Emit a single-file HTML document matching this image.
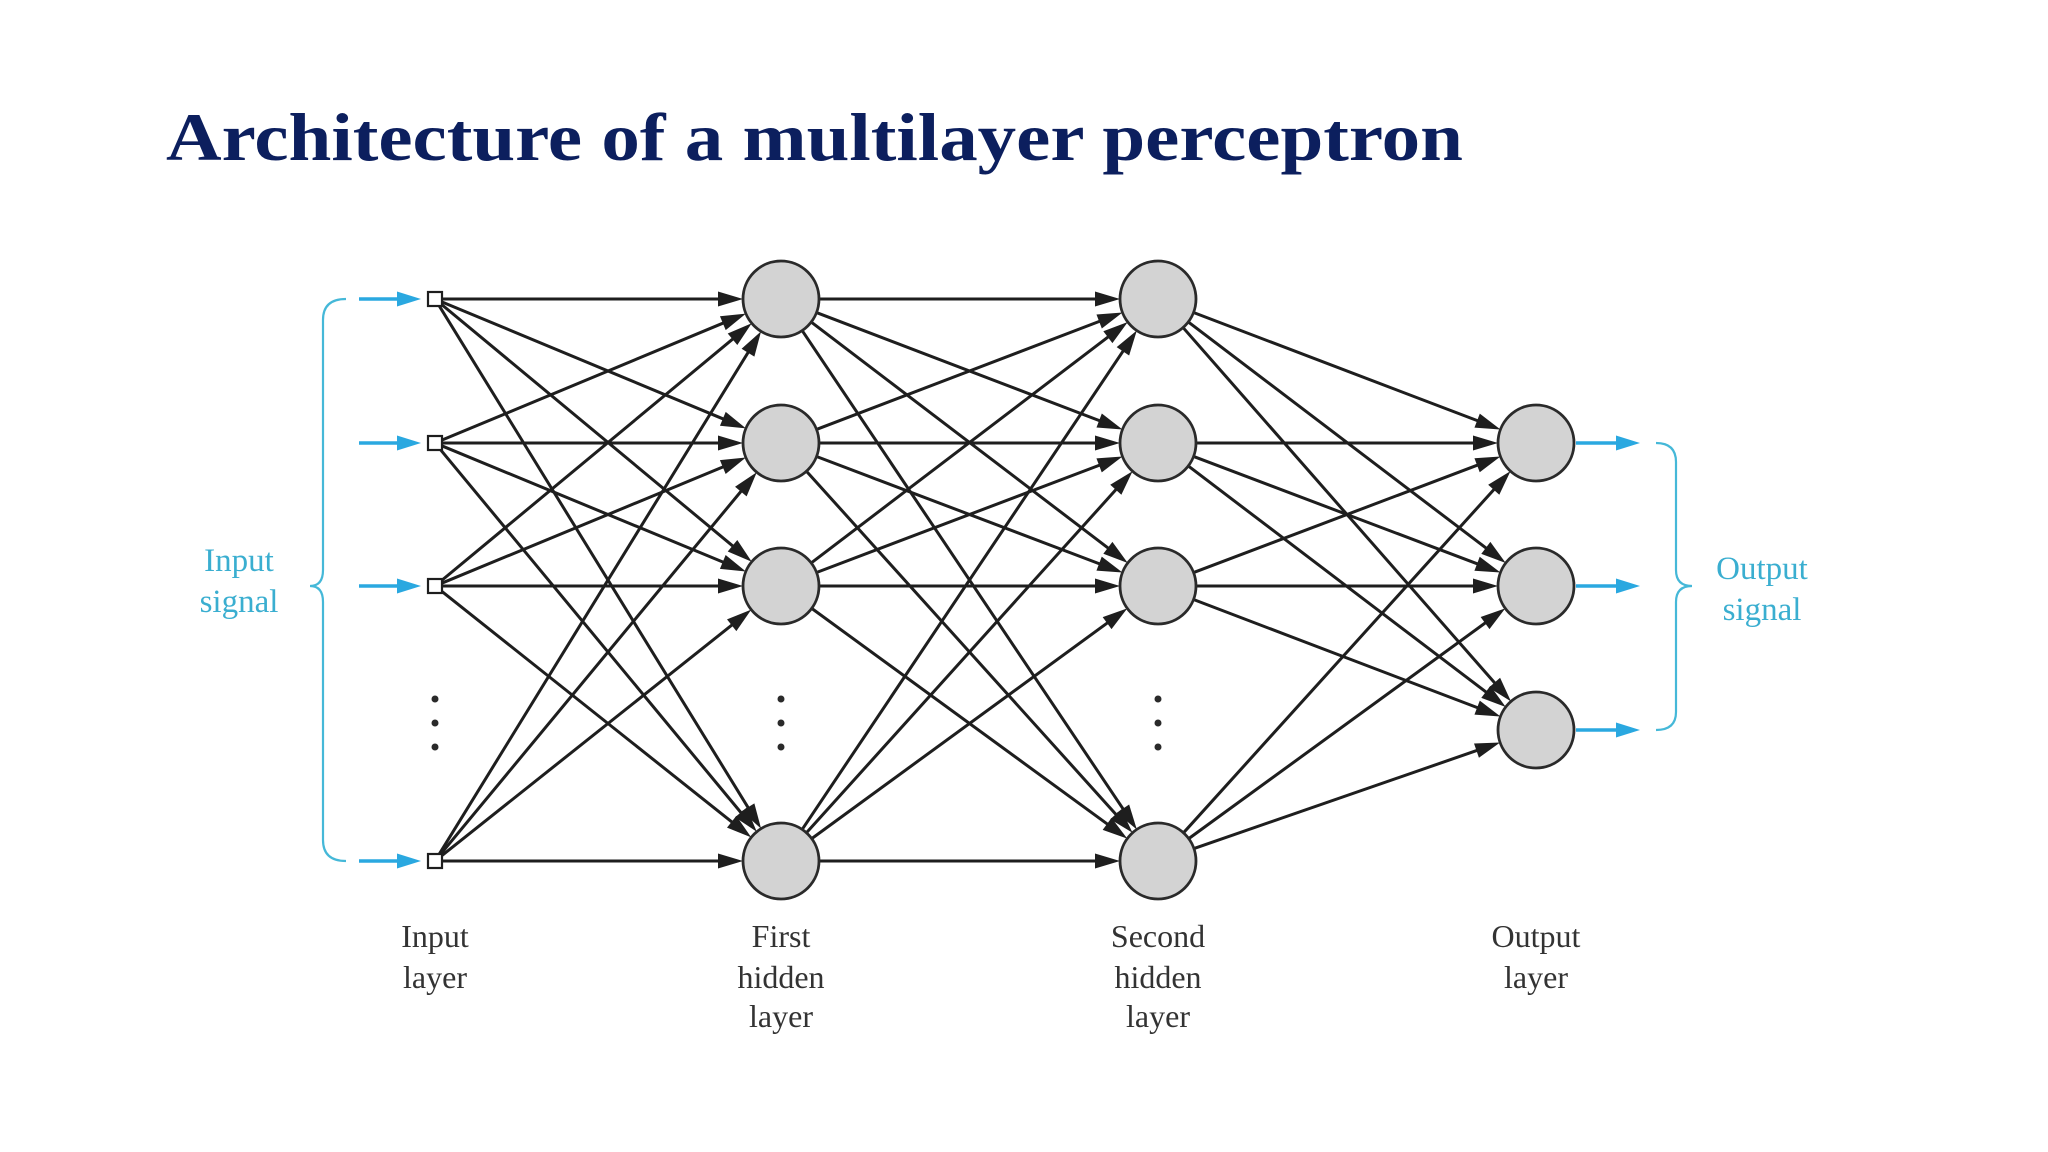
<!DOCTYPE html>
<html><head><meta charset="utf-8"><style>
html,body{margin:0;padding:0;background:#fff;}
svg{display:block;}
</style></head><body>
<svg id="s" width="2048" height="1152" viewBox="0 0 2048 1152" xmlns="http://www.w3.org/2000/svg">
<text x="166" y="160" font-family="Liberation Serif, serif" font-weight="bold" font-size="68" fill="#0c1f5e" textLength="1297" lengthAdjust="spacingAndGlyphs">Architecture of a multilayer perceptron</text>
<g id="lines"></g>
<g id="nodes"></g>
<g fill="#2a2a2a">
<circle cx="435" cy="699" r="3.5"/><circle cx="435" cy="723" r="3.5"/><circle cx="435" cy="747" r="3.5"/>
<circle cx="781" cy="699" r="3.5"/><circle cx="781" cy="723" r="3.5"/><circle cx="781" cy="747" r="3.5"/>
<circle cx="1158" cy="699" r="3.5"/><circle cx="1158" cy="723" r="3.5"/><circle cx="1158" cy="747" r="3.5"/>
</g>
<g fill="none" stroke="#45b8d8" stroke-width="2.2">
<path d="M346,299 Q323,299 323,320 L323,570 Q323,586 310,586 Q323,586 323,602 L323,840 Q323,861 346,861"/>
<path d="M1656,443 Q1676,443 1676,462 L1676,570 Q1676,586 1692,586 Q1676,586 1676,602 L1676,712 Q1676,730 1656,730"/>
</g>
<g font-family="Liberation Serif, serif" font-size="33" text-anchor="middle" fill="#3aaed0">
<text x="239" y="571">Input</text><text x="239" y="612">signal</text>
<text x="1762" y="579">Output</text><text x="1762" y="620">signal</text>
</g>
<g font-family="Liberation Serif, serif" font-size="32" text-anchor="middle" fill="#333">
<text x="435" y="947">Input</text><text x="435" y="988">layer</text>
<text x="781" y="947">First</text><text x="781" y="988">hidden</text><text x="781" y="1027">layer</text>
<text x="1158" y="947">Second</text><text x="1158" y="988">hidden</text><text x="1158" y="1027">layer</text>
<text x="1536" y="947">Output</text><text x="1536" y="988">layer</text>
</g>
</svg>
<script>
(function(){
var NS="http://www.w3.org/2000/svg";
var L=document.getElementById("lines"),N=document.getElementById("nodes");
function el(p,t,a){var e=document.createElementNS(NS,t);for(var k in a)e.setAttribute(k,a[k]);p.appendChild(e);return e;}
function arrow(x1,y1,x2,y2,col,w,hl,hw){
 var dx=x2-x1,dy=y2-y1,l=Math.hypot(dx,dy),ux=dx/l,uy=dy/l;
 var bx=x2-ux*hl,by=y2-uy*hl;
 el(L,"line",{x1:x1,y1:y1,x2:bx+ux*2,y2:by+uy*2,stroke:col,"stroke-width":w});
 var px=-uy*hw,py=ux*hw;
 el(L,"path",{d:"M"+x2+","+y2+" L"+(bx+px)+","+(by+py)+" L"+(bx-px)+","+(by-py)+" Z",fill:col});
}
var R=38;
var rows=[299,443,586,861];
var inX=435,h1=781,h2=1158,oX=1536,outR=[443,586,730];
function conn(ax,ay,ar,bx,by){
 var dx=bx-ax,dy=by-ay,l=Math.hypot(dx,dy),ux=dx/l,uy=dy/l;
 arrow(ax+ux*ar,ay+uy*ar,bx-ux*R,by-uy*R,"#1e1e1e",3,25,7.5);
}
rows.forEach(function(a){rows.forEach(function(b){conn(inX,a,8,h1,b);});});
rows.forEach(function(a){rows.forEach(function(b){conn(h1,a,R,h2,b);});});
rows.forEach(function(a){outR.forEach(function(b){conn(h2,a,R,oX,b);});});
rows.forEach(function(y){
 arrow(359,y,421,y,"#2aa8e0",3.4,24,7.5);
 el(N,"rect",{x:inX-7,y:y-7,width:14,height:14,fill:"#fff",stroke:"#1e1e1e","stroke-width":2.2});
 el(N,"circle",{cx:h1,cy:y,r:R,fill:"#d3d3d3",stroke:"#2a2a2a","stroke-width":2.8});
 el(N,"circle",{cx:h2,cy:y,r:R,fill:"#d3d3d3",stroke:"#2a2a2a","stroke-width":2.8});
});
outR.forEach(function(y){
 el(N,"circle",{cx:oX,cy:y,r:R,fill:"#d3d3d3",stroke:"#2a2a2a","stroke-width":2.8});
 arrow(1576,y,1640,y,"#2aa8e0",3.4,24,7.5);
});
})();
</script>
</body></html>
